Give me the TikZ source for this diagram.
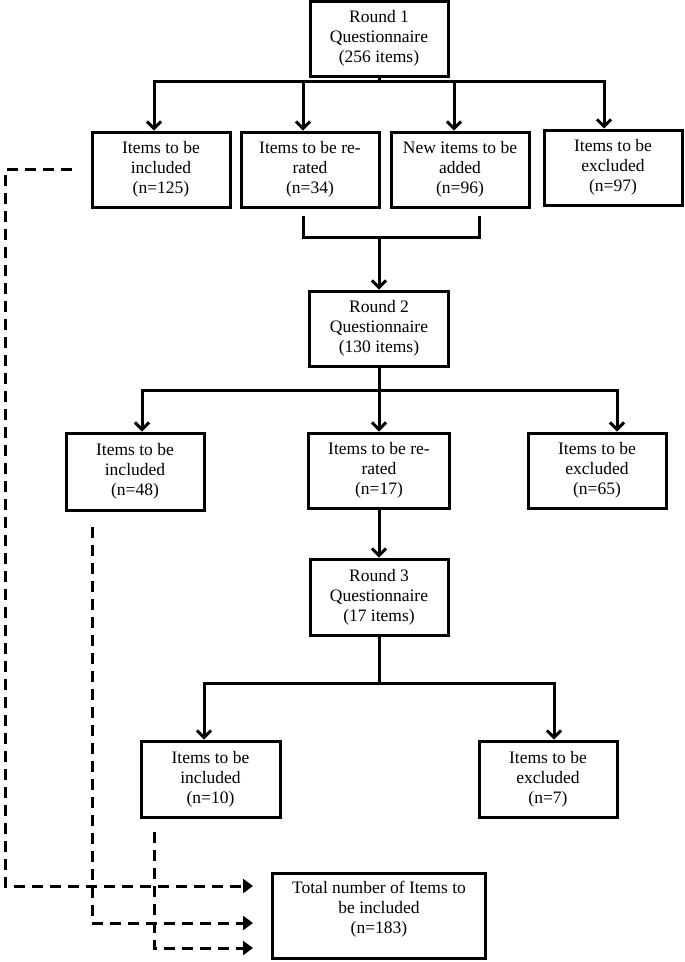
\documentclass[tikz,border=0pt]{standalone}
\usepackage{fontspec}
\setmainfont{Liberation Serif}
\usetikzlibrary{arrows.meta}
\begin{document}
\begin{tikzpicture}[x=1pt,y=-1pt,
  box/.style={draw, line width=3pt, rectangle, minimum width=138pt, minimum height=75pt,
    inner sep=2pt, align=center, font=\fontsize{17.5}{20}\selectfont},
  txt/.style={inner sep=0pt, align=center, font=\fontsize{17.5}{20}\selectfont},
  plain/.style={line width=3pt},
  flow/.style={line width=3pt, -{Straight Barb[length=7pt,width=14pt,line width=3pt]}},
  dashflow/.style={line width=3pt, dash pattern=on 11pt off 7pt, -{Triangle[length=10pt,width=14pt]}}
]
\useasboundingbox (0,0) rectangle (685,962);

% boxes
\node[box] (r1) at (379,38.5) {Round 1\\Questionnaire\\(256 items)};
\node[box] (b1) at (161,169.5) {Items to be\\included\\(n=125)};
\node[box] (b2) at (310,169.5) {Items to be re-\\rated\\(n=34)};
\node[box] (b3) at (460,169.5) {New items to be\\added\\(n=96)};
\node[box] (b4) at (613,167.5) {Items to be\\excluded\\(n=97)};
\node[box, minimum width=139pt] (r2) at (379,328.5) {Round 2\\Questionnaire\\(130 items)};
\node[box, minimum height=77pt] (c1) at (135,471.5) {Items to be\\included\\(n=48)};
\node[box, minimum width=141pt] (c2) at (379,470.5) {Items to be re-\\rated\\(n=17)};
\node[box] (c3) at (597,470.5) {Items to be\\excluded\\(n=65)};
\node[box, minimum height=76pt] (r3) at (379,597) {Round 3\\Questionnaire\\(17 items)};
\node[box, minimum width=139pt, minimum height=76pt] (d1) at (210.5,779) {Items to be\\included\\(n=10)};
\node[box, minimum height=76pt] (d2) at (548,779) {Items to be\\excluded\\(n=7)};
\node[box, minimum width=213pt, minimum height=85pt] (total) at (379,916) {};
\node[txt] (totaltxt) at (379,909) {Total number of Items to\\be included\\(n=183)};

% round 1 split
\coordinate (j1) at (379,81);
\draw[plain] (r1.south) -- (j1);
\draw[flow] (j1) -| ([xshift=-7pt]b1.north);
\draw[flow] (j1) -| ([xshift=-7pt]b2.north);
\draw[flow] (j1) -| ([xshift=-6pt]b3.north);
\draw[flow] (j1) -| ([xshift=-9pt]b4.north);

% bracket to round 2
\coordinate (jb) at (379,237);
\draw[plain] ([xshift=-7pt,yshift=-7pt]b2.south) |- (jb);
\draw[plain] ([xshift=19pt,yshift=-7pt]b3.south) |- (jb);
\draw[flow] (jb) -- (r2.north);

% round 2 split
\coordinate (j2) at (379,390);
\draw[plain] (r2.south) -- (j2);
\draw[flow] (j2) -| ([xshift=7pt]c1.north);
\draw[flow] (j2) -- (c2.north);
\draw[flow] (j2) -| ([xshift=20pt]c3.north);

% to round 3
\draw[flow] (c2.south) -- (r3.north);

% round 3 split
\coordinate (j3) at (379,683);
\draw[plain] (r3.south) -- (j3);
\draw[flow] (j3) -| ([xshift=-6.5pt]d1.north);
\draw[flow] (j3) -| ([xshift=6pt]d2.north);

% dashed collectors
\coordinate (s1) at ([xshift=-19pt]b1.west);
\coordinate (k1) at (5,886);
\coordinate (e1) at (253,886);
\draw[dashflow] (s1) -| (k1) -- (e1);

\coordinate (s2) at (92,527);
\coordinate (e2) at (253,923);
\draw[dashflow] (s2) |- (e2);

\coordinate (s3) at (154,832);
\coordinate (e3) at (253,948);
\draw[dashflow] (s3) |- (e3);
\end{tikzpicture}
\end{document}
